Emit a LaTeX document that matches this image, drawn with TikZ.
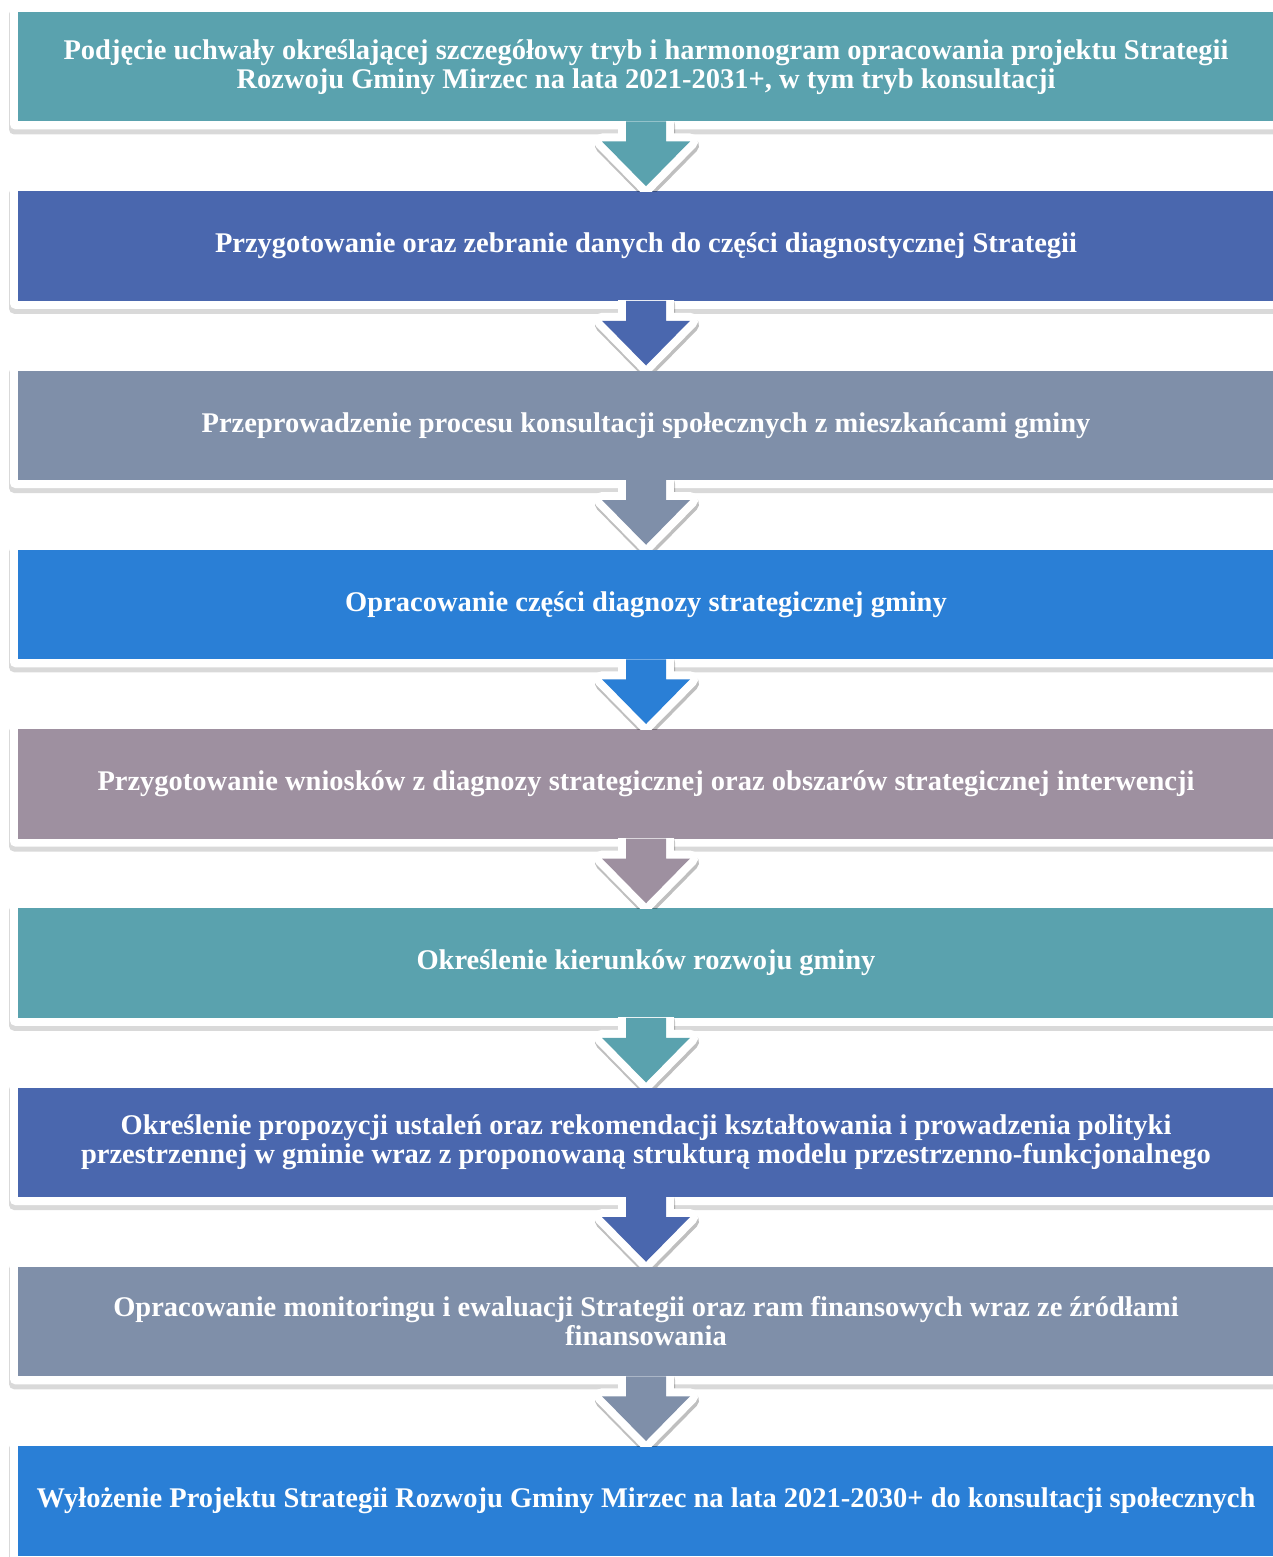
\documentclass[tikz,border=0pt]{standalone}
\usepackage{fontspec}
\setmainfont{Liberation Serif}
\usetikzlibrary{positioning, shadows, backgrounds}

\definecolor{tealc}{HTML}{5AA2AE}
\definecolor{indigoc}{HTML}{4A67AE}
\definecolor{slatec}{HTML}{7F8FA9}
\definecolor{azurec}{HTML}{2A7FD6}
\definecolor{mauvec}{HTML}{9E90A0}

\begin{document}
\begin{tikzpicture}[stage/.style = {fill = #1, text = white, font = \fontsize{14.25}{14.5}\selectfont\bfseries, align = center,
                      minimum width = 628pt, minimum height = 54.75pt, inner sep = 0pt, outer sep = 0pt},
                    frame/.style = {fill = white, rounded corners = 2.5pt,
                      drop shadow = {shadow xshift = -0.5pt, shadow yshift = -2.5pt, opacity = 0.3}},
                    flow/.style = {fill = #1,
                      preaction = {draw = black, opacity = 0.25, line width = 8pt, line join = round,
                        transform canvas = {shift = {(0.5pt,-2pt)}}},
                      preaction = {draw = white, line width = 8pt, line join = round}},
                    node distance = 34.875pt]
  \useasboundingbox (0,0) rectangle (636.5pt,-778.5pt);

  \node[stage = tealc] (s1) at (323pt,-33.375pt) {Podjęcie uchwały określającej szczegółowy tryb i harmonogram opracowania projektu Strategii\\
    Rozwoju Gminy Mirzec na lata 2021-2031+, w tym tryb konsultacji};
  \node[stage = indigoc, below = of s1] (s2) {Przygotowanie oraz zebranie danych do części diagnostycznej Strategii};
  \node[stage = slatec, below = of s2] (s3) {Przeprowadzenie procesu konsultacji społecznych z mieszkańcami gminy};
  \node[stage = azurec, below = of s3] (s4) {Opracowanie części diagnozy strategicznej gminy};
  \node[stage = mauvec, below = of s4] (s5) {Przygotowanie wniosków z diagnozy strategicznej oraz obszarów strategicznej interwencji};
  \node[stage = tealc, below = of s5] (s6) {Określenie kierunków rozwoju gminy};
  \node[stage = indigoc, below = of s6] (s7) {Określenie propozycji ustaleń oraz rekomendacji kształtowania i prowadzenia polityki\\
    przestrzennej w gminie wraz z proponowaną strukturą modelu przestrzenno-funkcjonalnego};
  \node[stage = slatec, below = of s7] (s8) {Opracowanie monitoringu i ewaluacji Strategii oraz ram finansowych wraz ze źródłami\\
    finansowania};
  \node[stage = azurec, below = of s8] (s9) {Wyłożenie Projektu Strategii Rozwoju Gminy Mirzec na lata 2021-2030+ do konsultacji społecznych};

  % white frames behind the stages
  \begin{scope}[on background layer]
    \foreach \i in {1,...,9}
      \path[frame] ([shift = {(-4pt,4pt)}]s\i.north west) rectangle ([shift = {(4pt,-4pt)}]s\i.south east);
  \end{scope}

  % block arrows between the stages
  \foreach \a/\b/\c in {1/2/tealc, 2/3/indigoc, 3/4/slatec, 4/5/azurec, 5/6/mauvec, 6/7/tealc, 7/8/indigoc, 8/9/slatec}
  {
    \begin{scope}
      \clip (s\a.south west) rectangle (s\b.north east);
      \path[flow = \c] ([xshift = -10pt]s\a.south) -- ([shift = {(-10pt,-10pt)}]s\a.south)
        -- ([shift = {(-22pt,-10pt)}]s\a.south) -- ([yshift = 2.5pt]s\b.north)
        -- ([shift = {(22pt,-10pt)}]s\a.south) -- ([shift = {(10pt,-10pt)}]s\a.south)
        -- ([xshift = 10pt]s\a.south) -- cycle;
    \end{scope}
  }
\end{tikzpicture}
\end{document}
